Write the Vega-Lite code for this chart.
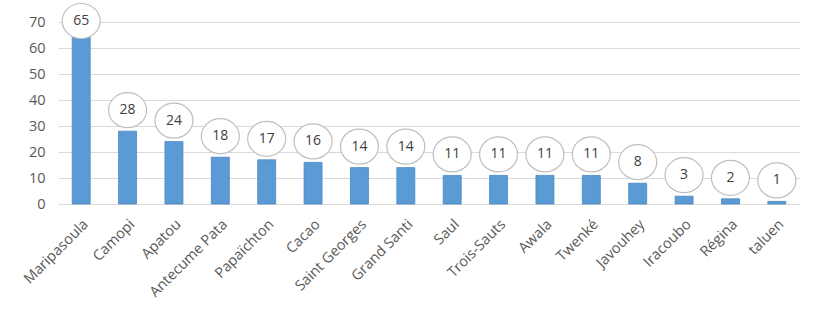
{
  "$schema": "https://vega.github.io/schema/vega-lite/v6.json",
  "width": 742,
  "height": 182,
  "autosize": {"type": "none"},
  "padding": {"left": 58, "top": 22, "right": 29, "bottom": 112},
  "background": "white",
  "config": {
    "view": {"stroke": null},
    "font": "Open Sans"
  },
  "data": {
    "values": [
      {"commune": "Maripasoula", "value": 65},
      {"commune": "Camopi", "value": 28},
      {"commune": "Apatou", "value": 24},
      {"commune": "Antecume Pata", "value": 18},
      {"commune": "Papaïchton", "value": 17},
      {"commune": "Cacao", "value": 16},
      {"commune": "Saint Georges", "value": 14},
      {"commune": "Grand Santi", "value": 14},
      {"commune": "Saul", "value": 11},
      {"commune": "Trois-Sauts", "value": 11},
      {"commune": "Awala", "value": 11},
      {"commune": "Twenké", "value": 11},
      {"commune": "Javouhey", "value": 8},
      {"commune": "Iracoubo", "value": 3},
      {"commune": "Régina", "value": 2},
      {"commune": "taluen", "value": 1}
    ]
  },
  "encoding": {
    "x": {
      "field": "commune",
      "type": "nominal",
      "sort": null,
      "title": null,
      "axis": {
        "labelAngle": -45,
        "labelFontSize": 14.5,
        "labelColor": "#595959",
        "ticks": false,
        "domain": false,
        "labelPadding": 13
      }
    },
    "y": {
      "field": "value",
      "type": "quantitative",
      "scale": {"domain": [0, 70], "nice": false},
      "title": null,
      "axis": {
        "values": [0, 10, 20, 30, 40, 50, 60, 70],
        "labelFontSize": 14.5,
        "labelColor": "#595959",
        "ticks": false,
        "domain": false,
        "gridColor": "#d9d9d9",
        "labelPadding": 13
      }
    }
  },
  "layer": [
    {
      "mark": {"type": "bar", "size": 18, "color": "#5b9bd5", "stroke": "#4a88c2", "strokeWidth": 0.8}
    },
    {
      "transform": [{"filter": "datum.value < 60"}],
      "mark": {
        "type": "point",
        "shape": "M-1,0A1,0.92,0,1,1,1,0A1,0.92,0,1,1,-1,0Z",
        "size": 1444,
        "filled": true,
        "fill": "white",
        "stroke": "#bfbfbf",
        "strokeWidth": 1.2,
        "opacity": 1,
        "yOffset": -21
      }
    },
    {
      "transform": [{"filter": "datum.value < 60"}],
      "mark": {"type": "text", "fontSize": 14, "color": "#404040", "yOffset": -21, "baseline": "middle"},
      "encoding": {"text": {"field": "value", "type": "quantitative"}}
    },
    {
      "transform": [{"filter": "datum.value >= 60"}],
      "mark": {
        "type": "point",
        "shape": "M-1,0A1,0.92,0,1,1,1,0A1,0.92,0,1,1,-1,0Z",
        "size": 1444,
        "filled": true,
        "fill": "white",
        "stroke": "#bfbfbf",
        "strokeWidth": 1.2,
        "opacity": 1,
        "yOffset": -14
      }
    },
    {
      "transform": [{"filter": "datum.value >= 60"}],
      "mark": {"type": "text", "fontSize": 14, "color": "#404040", "yOffset": -14, "baseline": "middle"},
      "encoding": {"text": {"field": "value", "type": "quantitative"}}
    }
  ]
}
